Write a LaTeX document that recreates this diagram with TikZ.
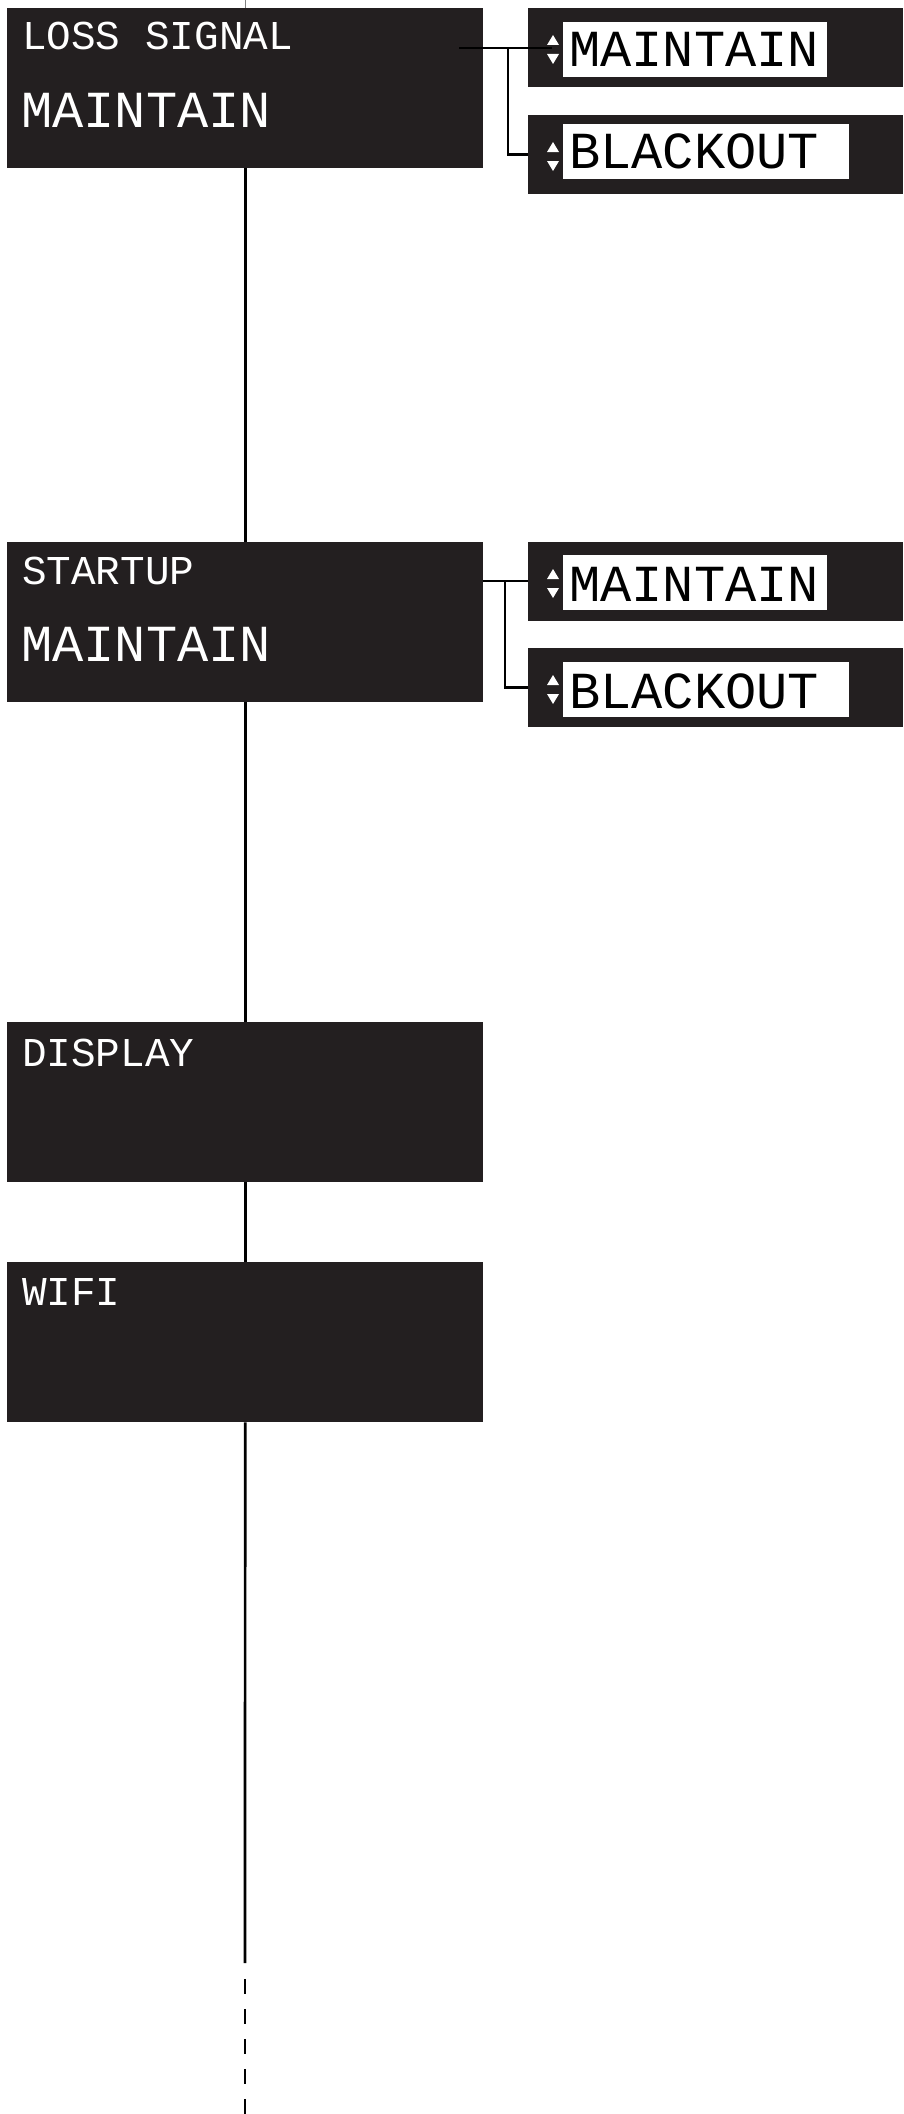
\documentclass[tikz,border=0pt]{standalone}
\usepackage{fontspec}
\newfontfamily\dotfont{Liberation Mono}
\definecolor{panel}{HTML}{231F20}
\begin{document}
\begin{tikzpicture}[x=1pt,y=-1pt,
  mainbox/.style={draw=none,fill=panel,anchor=north west,inner sep=0pt,minimum width=476pt,minimum height=160pt},
  optbox/.style={draw=none,fill=panel,anchor=north west,inner sep=0pt,minimum width=375pt,minimum height=79pt},
  whitebox/.style={draw=none,fill=white,anchor=north west,inner sep=0pt,minimum height=55pt},
  smalltxt/.style={anchor=base west,inner sep=0pt,text=white,font=\dotfont\fontsize{41}{41}\selectfont},
  bigtxt/.style={anchor=base west,inner sep=0pt,text=white,font=\dotfont\fontsize{52}{52}\selectfont},
  opttxt/.style={anchor=base west,inner sep=0pt,text=black,font=\dotfont\fontsize{52}{52}\selectfont},
  trunk/.style={line width=2.7pt,black},
  link/.style={line width=2.7pt,black}
]
\useasboundingbox (0,0) rectangle (903,2114);

% coordinates for trunk
\coordinate (ttop) at (245,0);
\coordinate (tbreak) at (245,1963);
\coordinate (tdash) at (245,1979);
\coordinate (tend) at (245,2114);

% faint tick above first box
\draw[gray,line width=0.8pt] (ttop) -- (245,8);

% main boxes
\node[mainbox] (loss) at (7,8) {};
\node[mainbox] (start) at (7,542) {};
\node[mainbox] (disp) at (7,1022) {};
\node[mainbox] (wifi) at (7,1262) {};

% trunk connectors
\draw[trunk] (loss.south) -- (start.north);
\draw[trunk] (start.south) -- (disp.north);
\draw[trunk] (disp.south) -- (wifi.north);
\draw[trunk] (wifi.south) -- (tbreak);
\draw[trunk,dash pattern=on 15pt off 15pt] (tdash) -- (tend);

% main texts
\node[smalltxt] (losst) at (22,50) {LOSS SIGNAL};
\node[bigtxt] (lossv) at (21,128) {MAINTAIN};
\node[smalltxt] (startt) at (22,584) {STARTUP};
\node[bigtxt] (startv) at (21,661) {MAINTAIN};
\node[smalltxt] (dispt) at (22,1066) {DISPLAY};
\node[smalltxt] (wifit) at (22,1305) {WIFI};

% option boxes group 1
\node[optbox] (o1a) at (528,8) {};
\node[optbox] (o1b) at (528,115) {};
\node[whitebox,minimum width=264pt] (w1a) at (563,22) {};
\node[whitebox,minimum width=286pt] (w1b) at (563,124) {};
\node[opttxt] (t1a) at (569,67) {MAINTAIN};
\node[opttxt] (t1b) at (569,168) {BLACKOUT};

% option boxes group 2
\node[optbox] (o2a) at (528,542) {};
\node[optbox] (o2b) at (528,648) {};
\node[whitebox,minimum width=264pt] (w2a) at (563,555) {};
\node[whitebox,minimum width=286pt] (w2b) at (563,662) {};
\node[opttxt] (t2a) at (569,601) {MAINTAIN};
\node[opttxt] (t2b) at (569,708) {BLACKOUT};

% up/down arrows
\foreach \t in {8,115,542,648}{
  \fill[white] (547,\t+37) -- (559,\t+37) -- (553,\t+27) -- cycle;
  \fill[white] (547,\t+46) -- (559,\t+46) -- (553,\t+56) -- cycle;
}

% connectors group 1
\coordinate (c1s) at (459,48);
\coordinate (c1j) at (508,48);
\coordinate (c1e) at (552,48);
\draw[link] (c1s) -- (c1e);
\draw[link] (c1j) |- (o1b.west);

% connectors group 2
\coordinate (c2j) at (505,581);
\draw[link] (start.east |- c2j) -- (o2a.west |- c2j);
\draw[link] (c2j) |- (o2b.west);
\end{tikzpicture}
\end{document}
